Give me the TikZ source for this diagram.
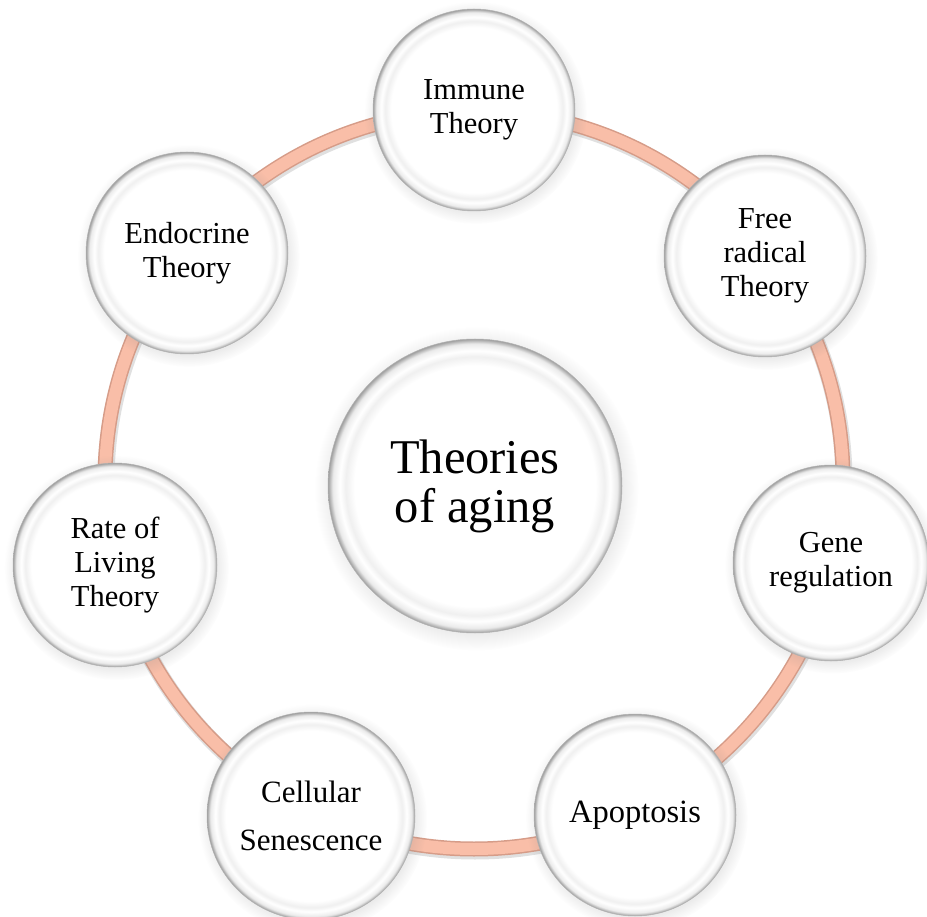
\documentclass[tikz,border=0pt]{standalone}
\usepackage{fontspec}
\setmainfont{Liberation Serif}
\usetikzlibrary{shadows}
\definecolor{ringedge}{RGB}{214,156,136}
\definecolor{ringfill}{RGB}{249,190,168}
\pgfdeclareradialshading{buttonshade}{\pgfpoint{0bp}{0bp}}{color(0bp)=(white); color(20.5bp)=(white); color(22bp)=(black!6); color(23bp)=(white); color(24.2bp)=(black!8); color(25bp)=(black!38); color(50bp)=(black!38)}
\begin{document}
\begin{tikzpicture}[x=1pt,y=-1pt,
  bubble/.style={circle, minimum size=202pt, inner sep=0pt, shade, shading=buttonshade,
    draw=black!30, line width=0.5pt, align=center, text=black,
    circular drop shadow={shadow xshift=1.5pt, shadow yshift=-2.5pt, opacity=0.2}},
  smalltext/.style={font=\fontsize{30.5}{34}\selectfont},
  ringshadow/.style={draw=black!40, opacity=0.3, line width=17pt},
  ringouter/.style={draw=ringedge, line width=15pt},
  ringinner/.style={draw=ringfill, line width=12pt}]
\useasboundingbox (0,0) rectangle (927,917);
\fill[white] (0,0) rectangle (927,917);
% ring
\coordinate (rc) at (474,480);
\draw[ringshadow] ([shift={(1,2)}]rc) circle[radius=369pt];
\draw[ringouter] (rc) circle[radius=369pt];
\draw[ringinner] (rc) circle[radius=369pt];
% center
\node[bubble, minimum size=294pt, font=\fontsize{48.5}{49}\selectfont] (center) at (475,486) {Theories\\of aging};
% outer bubbles
\node[bubble, smalltext] (immune) at (474,110) {Immune\\Theory};
\node[bubble, smalltext] (free) at (765,256) {Free\\radical\\Theory};
\node[bubble, smalltext, minimum size=196pt] (gene) at (831,563) {Gene\\regulation};
\node[bubble, font=\fontsize{32.5}{36}\selectfont] (apop) at (635,815) {Apoptosis};
\node[bubble, font=\fontsize{31}{48}\selectfont, minimum size=208pt] (cell) at (311,816) {Cellular\\Senescence};
\node[bubble, smalltext, minimum size=204pt] (rate) at (115,565) {Rate of\\Living\\Theory};
\node[bubble, smalltext] (endo) at (187,253) {Endocrine\\Theory};
\end{tikzpicture}
\end{document}
